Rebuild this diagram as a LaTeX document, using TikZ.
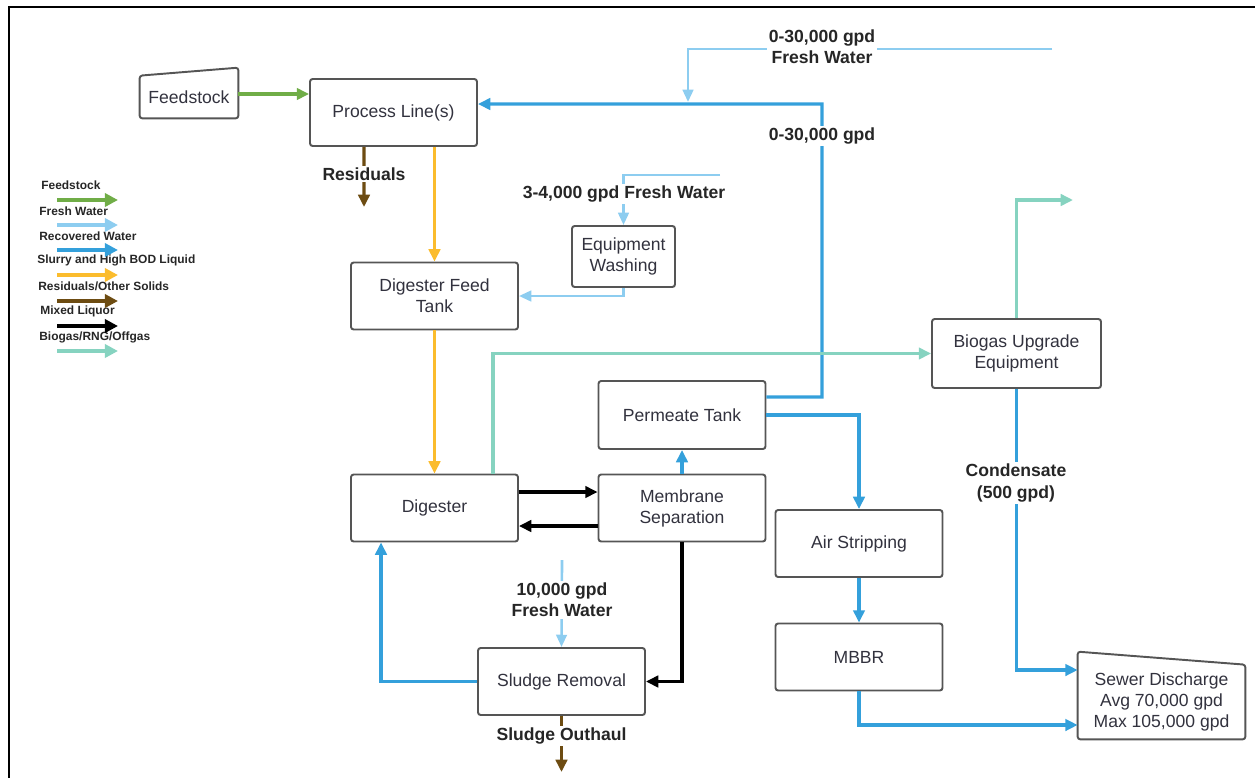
\documentclass[tikz,border=0pt]{standalone}
\usepackage{fontspec}
\setmainfont{Liberation Sans}
\usetikzlibrary{arrows.meta}
\definecolor{feedgreen}{RGB}{112,173,71}
\definecolor{freshblue}{RGB}{141,205,240}
\definecolor{recblue}{RGB}{52,160,219}
\definecolor{slurryyel}{RGB}{251,188,45}
\definecolor{resbrown}{RGB}{109,76,18}
\definecolor{gasteal}{RGB}{134,211,192}
\definecolor{boxgray}{RGB}{85,85,85}
\definecolor{txtgray}{RGB}{50,50,62}

\begin{document}
\begin{tikzpicture}[x=0.02cm,y=-0.02cm,
  unit/.style={rectangle,draw=boxgray,line width=1.1pt,rounded corners=1.5pt,fill=white,align=center,
    text=txtgray,font=\fontsize{10}{12}\selectfont,minimum width=3.34cm,minimum height=1.34cm,inner sep=2pt},
  odd/.style={align=center,text=txtgray,font=\fontsize{10}{12}\selectfont,inner sep=2pt},
  oddline/.style={draw=boxgray,line width=1.1pt,rounded corners=1.5pt},
  flowlbl/.style={fill=white,inner sep=1pt,align=center,text=black!85,font=\bfseries\fontsize{10}{12}\selectfont},
  legtxt/.style={anchor=west,inner sep=0pt,text=black!85,font=\bfseries\fontsize{6.8}{8}\selectfont},
  pipe/.style={line width=1.9pt,-{Triangle[length=7pt,width=6.5pt]}},
  thinpipe/.style={line width=1.5pt,-{Triangle[length=7pt,width=6pt]}},
  legarr/.style={line width=2.3pt,-{Triangle[length=7.5pt,width=7.5pt]}}]
\useasboundingbox (0,0) rectangle (1255,778);
\draw[line width=1.4pt] (9,778) -- (9,7) -- (1255,7);

% legend
\path (41,185) node(lgfeed)[legtxt]{Feedstock}
(39,211) node(lgfresh)[legtxt]{Fresh Water}
(39,236) node(lgrec)[legtxt]{Recovered Water}
(37,260) node(lgslur)[legtxt]{Slurry and High BOD Liquid}
(38,286) node(lgres)[legtxt]{Residuals/Other Solids}
(40,311) node(lgmix)[legtxt]{Mixed Liquor}
(39,337) node(lggas)[legtxt]{Biogas/RNG/Offgas};
\draw[legarr,feedgreen](57,200)--(118,200);
\draw[legarr,freshblue](57,225)--(118,225);
\draw[legarr,recblue](57,250)--(118,250);
\draw[legarr,slurryyel](57,275)--(118,275);
\draw[legarr,resbrown](57,301)--(118,301);
\draw[legarr,black](57,326)--(118,326);
\draw[legarr,gasteal](57,351)--(118,351);

% units
\path (189,97) node(feed)[odd,minimum width=1.96cm,minimum height=0.84cm]{Feedstock}
(393.5,112.5) node(proc)[unit]{Process Line(s)}
(434.5,296) node(dft)[unit]{Digester Feed\\Tank}
(623.5,256.5) node(eqw)[unit,minimum width=2.06cm,minimum height=1.22cm]{Equipment\\Washing}
(682,415) node(perm)[unit,minimum height=1.36cm]{Permeate Tank}
(1016.5,353.5) node(bgu)[unit,minimum width=3.38cm,minimum height=1.38cm]{Biogas Upgrade\\Equipment}
(434.5,508) node(dig)[unit]{Digester}
(682,508) node(mem)[unit]{Membrane\\Separation}
(859,543.5) node(air)[unit]{Air Stripping}
(859,657) node(mbbr)[unit]{MBBR}
(561.5,681.5) node(sr)[unit]{Sludge Removal}
(1161.5,702) node(sew)[odd,minimum width=3.34cm,minimum height=1.48cm]{Sewer Discharge\\Avg 70,000 gpd\\Max 105,000 gpd};
\draw[oddline](feed.south west)--(feed.north west)--([yshift=0.16cm]feed.north east)--(feed.south east)--cycle;
\draw[oddline](sew.south west)--([yshift=0.26cm]sew.north west)--(sew.north east)--(sew.south east)--cycle;

\coordinate (fwin) at (1052,49);
\coordinate (fwjn) at (688,102);
\coordinate (rwtop) at (822,104);
\coordinate (ewin) at (720,175);
\coordinate (resout) at (364,207);
\coordinate (swin) at (562,560);
\coordinate (south) at (561.5,772);
\coordinate (bgout) at (1073,200);

% flows
\draw[pipe,feedgreen]([yshift=0.06cm]feed.east)--([yshift=0.06cm]feed.east -| proc.west);
\draw[pipe,recblue]([yshift=0.36cm]perm.east)-|(rwtop)--([yshift=0.17cm]proc.east);
\draw[thinpipe,freshblue](fwin)-|(fwjn);
\draw[pipe,resbrown]([xshift=-0.59cm]proc.south)--(resout);
\draw[pipe,slurryyel](dft.north |- proc.south)--(dft.north);
\draw[pipe,slurryyel](dft)--(dig);
\draw[thinpipe,freshblue](ewin)-|(eqw.north);
\draw[thinpipe,freshblue](eqw.south)|-(dft.east);
\draw[pipe,gasteal]([xshift=1.17cm]dig.north)|-(bgu.west);
\draw[pipe,gasteal](bgu.north)|-(bgout);
\draw[pipe,recblue](bgu.south)|-([yshift=0.64cm]sew.west);
\draw[pipe,recblue](perm.east)-|(air.north);
\draw[pipe,recblue](air)--(mbbr);
\draw[pipe,recblue](mbbr.south)|-([yshift=-0.46cm]sew.west);
\draw[pipe,recblue](mem)--(perm);
\draw[pipe,black]([yshift=0.32cm]dig.east)--([yshift=0.32cm]dig.east -| mem.west);
\draw[pipe,black]([yshift=-0.36cm]mem.west)--([yshift=-0.36cm]mem.west -| dig.east);
\draw[pipe,black](mem.south)|-(sr.east);
\draw[pipe,recblue](sr.west)-|([xshift=-1.07cm]dig.south);
\draw[thinpipe,freshblue](swin)--(sr.north);
\draw[pipe,resbrown](sr.south)--(south);

% flow labels
\path (822,46.5) node(lfw)[flowlbl]{0-30,000 gpd\\Fresh Water}
(822,136) node(lrw)[flowlbl]{0-30,000 gpd}
(364,174) node(lres)[flowlbl]{Residuals}
(624,194) node(lew)[flowlbl]{3-4,000 gpd Fresh Water}
(1016,483) node(lcond)[flowlbl]{Condensate\\(500 gpd)}
(562,600) node(lsw)[flowlbl]{10,000 gpd\\Fresh Water}
(561.5,736) node(lsout)[flowlbl]{Sludge Outhaul};
\end{tikzpicture}
\end{document}
